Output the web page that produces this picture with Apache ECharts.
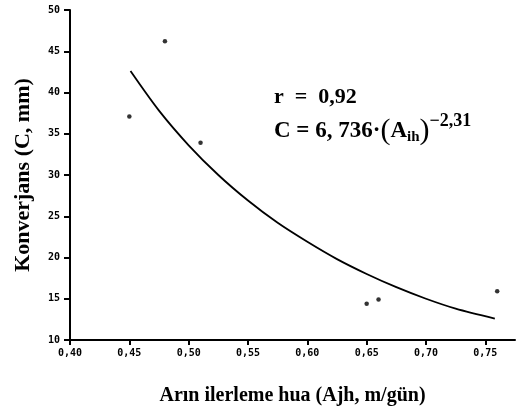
<!DOCTYPE html>
<html>
<head>
<meta charset="utf-8">
<script src="https://cdn.jsdelivr.net/npm/echarts@6/dist/echarts.min.js"></script>
<style>html,body{margin:0;padding:0;background:#fff}#c{width:517px;height:412px}</style>
</head>
<body>
<div id="c"></div>
<script>
// Measured points
var pointX = [0.45, 0.48, 0.51, 0.65, 0.66, 0.76];
var pointY = [37.1, 46.2, 33.9, 14.4, 14.9, 15.9];
// Fitted curve
var curveX = [0.451, 0.475, 0.500, 0.525, 0.550, 0.575, 0.600, 0.625, 0.650, 0.675, 0.700, 0.725, 0.758];
var curveY = [42.6, 37.8, 33.6, 30.0, 26.9, 24.2, 21.9, 19.8, 18.0, 16.4, 15.0, 13.8, 12.6];
var xTicks = [0.40, 0.45, 0.50, 0.55, 0.60, 0.65, 0.70, 0.75];
var yTicks = [10, 15, 20, 25, 30, 35, 40, 45, 50];

var chart = echarts.init(document.getElementById('c'), null, {renderer: 'canvas'});
var fmtX = function (v) { return v.toFixed(2).replace('.', ','); };
var labelFont = {fontFamily: 'DejaVu Sans Mono', fontWeight: 'bold', fontSize: 10, color: '#000'};
chart.setOption({
  animation: false,
  backgroundColor: '#fff',
  grid: {left: 70, top: 10, right: 2, bottom: 72},
  xAxis: {
    type: 'value', min: 0.40, max: 0.775,
    name: 'Arın ilerleme hua (Ajh, m/gün)',
    nameLocation: 'middle', nameGap: 46,
    nameTextStyle: {fontFamily: 'Liberation Serif', fontWeight: 'bold', fontSize: 20, color: '#000'},
    axisLine: {lineStyle: {color: '#000', width: 2}},
    axisTick: {show: true, inside: false, length: 5, lineStyle: {color: '#000', width: 2}, customValues: xTicks},
    axisLabel: Object.assign({margin: 8, formatter: fmtX, customValues: xTicks}, labelFont),
    splitLine: {show: false}
  },
  yAxis: {
    type: 'value', min: 10, max: 50, interval: 5,
    name: 'Konverjans (C, mm)',
    nameLocation: 'middle', nameGap: 36,
    nameTextStyle: {fontFamily: 'Liberation Serif', fontWeight: 'bold', fontSize: 22, color: '#000'},
    axisLine: {lineStyle: {color: '#000', width: 2}},
    axisTick: {show: true, inside: false, length: 6, lineStyle: {color: '#000', width: 2}, customValues: yTicks},
    axisLabel: Object.assign({margin: 10, customValues: yTicks}, labelFont),
    splitLine: {show: false}
  },
  series: [
    {
      type: 'line', data: curveX.map(function (x, i) { return [x, curveY[i]]; }),
      smooth: 0.3, showSymbol: false, symbol: 'none',
      lineStyle: {color: '#000', width: 1.8}
    },
    {
      type: 'scatter', data: pointX.map(function (x, i) { return [x, pointY[i]]; }),
      symbol: 'circle', symbolSize: 4.5, itemStyle: {color: '#000'}
    }
  ],
  graphic: [
    {
      type: 'text', left: 274, top: 86,
      style: {text: 'r  =  0,92', fontFamily: 'Liberation Serif', fontWeight: 'bold', fontSize: 22, fill: '#000'}
    },
    {
      type: 'text', left: 274, top: 112,
      style: {
        text: '{b|C = 6, 736·}{p|(}{b|A}{s|ih}{p|)}{sup|−2,31}',
        rich: {
          b: {fontFamily: 'Liberation Serif', fontWeight: 'bold', fontSize: 23, fill: '#000', lineHeight: 38, verticalAlign: 'middle'},
          p: {fontFamily: 'Liberation Serif', fontSize: 30, fill: '#000', lineHeight: 38, verticalAlign: 'middle'},
          s: {fontFamily: 'Liberation Serif', fontWeight: 'bold', fontSize: 15, fill: '#000', lineHeight: 38, verticalAlign: 'bottom', padding: [0, 0, 5, 0]},
          sup: {fontFamily: 'Liberation Serif', fontWeight: 'bold', fontSize: 18, fill: '#000', lineHeight: 38, verticalAlign: 'top'}
        }
      }
    }
  ]
});
</script>
</body>
</html>
